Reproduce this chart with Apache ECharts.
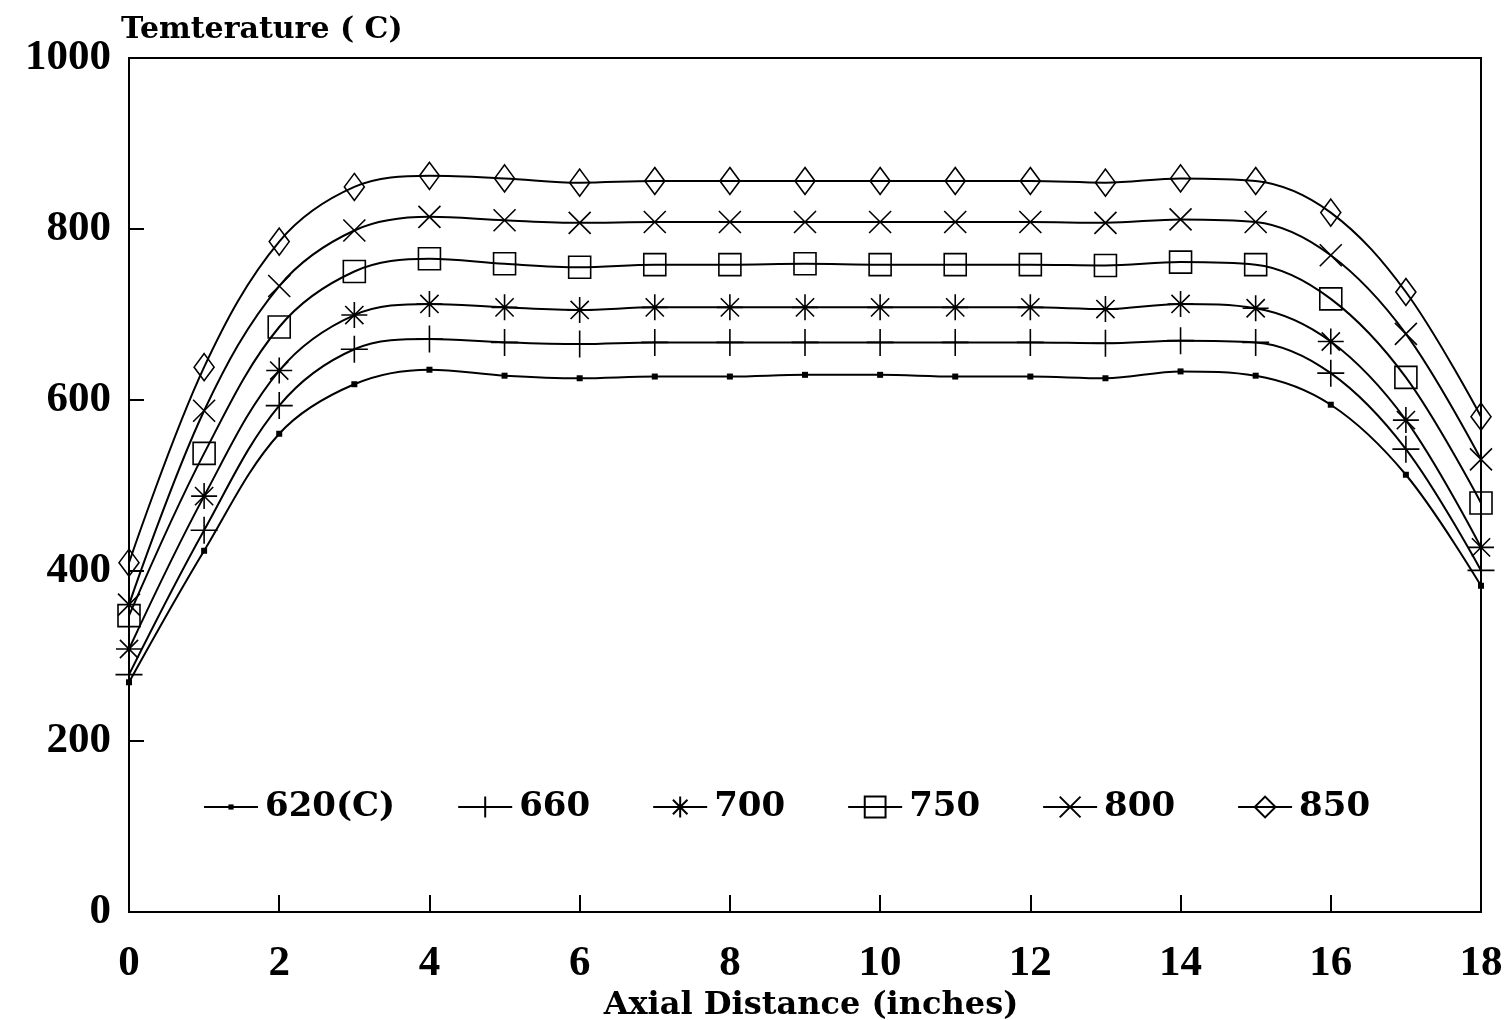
<!DOCTYPE html>
<html>
<head>
<meta charset="utf-8">
<script src="https://cdn.jsdelivr.net/npm/echarts@6/dist/echarts.min.js"></script>
<style>
html,body{margin:0;padding:0;background:#fff;}
#chart{width:1511px;height:1020px;}
</style>
</head>
<body>
<div id="chart"></div>
<script>
var distances = [0,1,2,3,4,5,6,7,8,9,10,11,12,13,14,15,16,17,18];
var seriesNames = ['620(C)', '660', '700', '750', '800', '850'];
var s620 = [269, 423, 560, 618, 635, 628, 625, 627, 627, 629, 629, 627, 627, 625, 633, 628, 594, 512, 382];
var s660 = [278, 447, 593, 659, 671, 667, 665, 667, 667, 667, 667, 667, 667, 666, 669, 667, 631, 542, 400];
var s700 = [308, 487, 634, 699, 712, 708, 705, 708, 708, 708, 708, 708, 708, 706, 712, 707, 668, 576, 427];
var s750 = [347, 537, 685, 750, 765, 759, 755, 758, 758, 759, 758, 758, 758, 757, 761, 758, 718, 626, 479];
var s800 = [360, 587, 733, 798, 814, 810, 807, 808, 808, 808, 808, 808, 808, 807, 811, 808, 769, 677, 530];
var s850 = [409, 638, 785, 849, 862, 859, 854, 856, 856, 856, 856, 856, 856, 854, 859, 856, 819, 726, 580];
var allValues = [s620, s660, s700, s750, s800, s850];

var FONT = '"Liberation Serif", "DejaVu Serif", serif';
var WIDE = '"DejaVu Serif", "Liberation Serif", serif';
var symbols = [
  'path://M0,0M9,9L15,9L15,15L9,15ZM24,24',
  'path://M0,10L20,10M10,0L10,20',
  'path://M0,10L20,10M10,0L10,20M3,3L17,17M17,3L3,17',
  'path://M0,0L20,0L20,20L0,20Z',
  'path://M0,0L20,20M20,0L0,20',
  'path://M10,0L20,13L10,26L0,13Z'
];
var sizes = [24, 27, 26, 22, 22, [20, 27]];

var series = seriesNames.map(function (name, i) {
  var filled = i === 0;
  return {
    name: name,
    type: 'line',
    smooth: 0.35,
    clip: false,
    symbol: symbols[i],
    symbolSize: sizes[i],
    showAllSymbol: true,
    lineStyle: { color: '#000', width: 2 },
    itemStyle: filled
      ? { color: '#000', borderColor: '#000', borderWidth: 0 }
      : { color: 'rgba(255,255,255,0)', borderColor: '#000', borderWidth: 1.6 },
    emphasis: { disabled: true },
    data: distances.map(function (d, k) { return [d, allValues[i][k]]; })
  };
});

var chart = echarts.init(document.getElementById('chart'));
chart.setOption({
  animation: false,
  backgroundColor: '#fff',
  grid: {
    left: 129, right: 30, top: 58, bottom: 108,
    outerBoundsMode: 'none', containLabel: false,
    show: true, borderColor: '#000', borderWidth: 2, backgroundColor: 'transparent'
  },
  legend: {
    left: 198, top: 785,
    itemWidth: 54, itemHeight: 26, itemGap: 62,
    textStyle: { fontFamily: WIDE, fontWeight: 'bold', fontSize: 34, color: '#000', padding: [0, 0, 0, 2] },
    data: seriesNames
  },
  xAxis: {
    type: 'value', min: 0, max: 18, interval: 2,
    name: 'Axial Distance (inches)', nameLocation: 'middle', nameGap: 72,
    nameTextStyle: { fontFamily: WIDE, fontWeight: 'bold', fontSize: 32, color: '#000', padding: [0, 0, 0, 12] },
    axisLine: { show: true, lineStyle: { color: '#000', width: 2 } },
    axisTick: { show: true, inside: true, length: 17, lineStyle: { color: '#000', width: 2 } },
    axisLabel: { fontFamily: FONT, fontWeight: 'bold', fontSize: 43, color: '#000', margin: 30 },
    splitLine: { show: false }
  },
  yAxis: {
    type: 'value', min: 0, max: 1000, interval: 200,
    name: 'Temterature ( C)', nameLocation: 'end', nameGap: 13,
    nameTextStyle: { fontFamily: WIDE, fontWeight: 'bold', fontSize: 30, color: '#000', align: 'left', padding: [0, 0, 0, -8] },
    axisLine: { show: true, lineStyle: { color: '#000', width: 2 } },
    axisTick: { show: true, inside: true, length: 15, lineStyle: { color: '#000', width: 2 } },
    axisLabel: {
      fontFamily: FONT, fontWeight: 'bold', fontSize: 43, color: '#000', margin: 18,
      formatter: function (v) { return String(v); }
    },
    splitLine: { show: false }
  },
  series: series
});
</script>
</body>
</html>
